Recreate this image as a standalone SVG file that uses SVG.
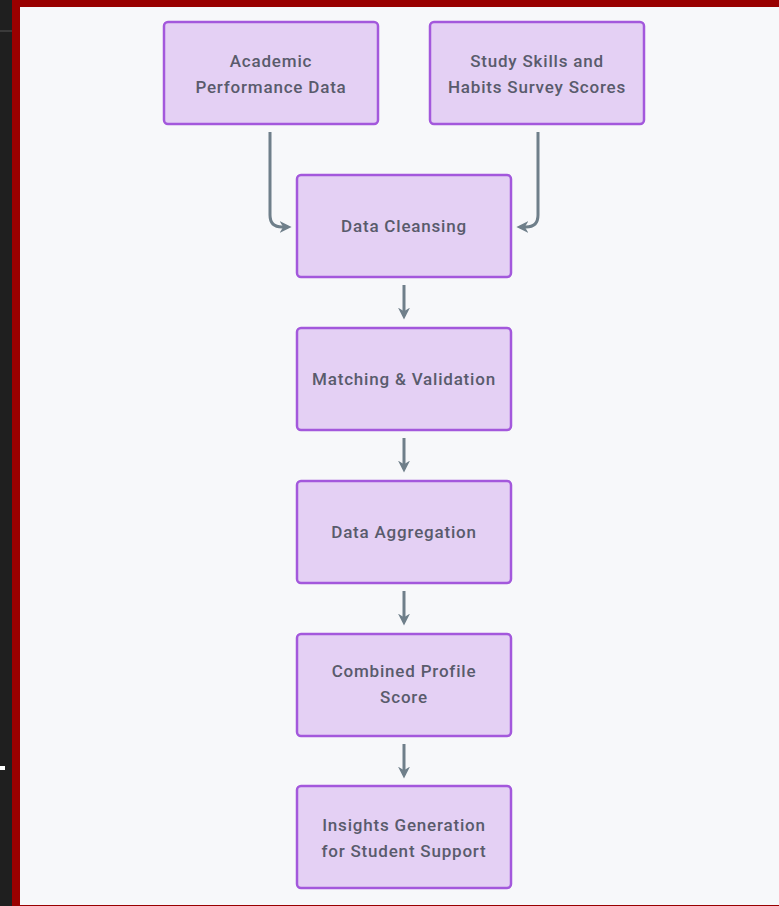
<svg xmlns="http://www.w3.org/2000/svg" width="779" height="906" viewBox="0 0 779 906">
  <style>
    .node rect { fill: #e4d0f4; stroke: #a358dc; stroke-width: 2.5; }
    .node text { font-family: "Roboto", "Liberation Sans", sans-serif; font-weight: 500; font-size: 17px; letter-spacing: 0.8px; fill: #595b6c; text-anchor: middle; }
    .edge { fill: none; stroke: #6f7f8a; stroke-width: 3; }
  </style>
  <defs>
    <marker id="head" viewBox="0 0 10 10" refX="7" refY="5" markerWidth="4" markerHeight="4" orient="auto" markerUnits="strokeWidth">
      <path d="M0,0 L10,5 L0,10 L3,5 Z" fill="#6f7f8a"/>
    </marker>
  </defs>

  <!-- frame -->
  <rect x="0" y="0" width="779" height="906" fill="#1f1f1f"/>
  <rect x="0" y="30" width="12" height="2" fill="#3a3a3a"/>
  <rect x="0" y="766" width="5" height="4" fill="#ffffff"/>
  <rect x="12" y="0" width="767" height="906" fill="#990000"/>
  <rect x="20" y="7" width="759" height="898" fill="#f7f8fa"/>

  <!-- connectors -->
  <g id="connectors">
    <path class="edge" d="M270,132 V215 Q270,227 282,227 H288" marker-end="url(#head)"/>
    <path class="edge" d="M538,132 V215 Q538,227 526,227 H520" marker-end="url(#head)"/>
    <path class="edge" d="M404,285 V316" marker-end="url(#head)"/>
    <path class="edge" d="M404,438 V469" marker-end="url(#head)"/>
    <path class="edge" d="M404,591 V622" marker-end="url(#head)"/>
    <path class="edge" d="M404,744 V775" marker-end="url(#head)"/>
  </g>

  <!-- nodes -->
  <g id="academic" class="node">
    <rect x="164" y="22" width="214" height="102" rx="4"/>
    <text x="271" y="67">Academic</text>
    <text x="271" y="93">Performance Data</text>
  </g>
  <g id="survey" class="node">
    <rect x="430" y="22" width="214" height="102" rx="4"/>
    <text x="537" y="67">Study Skills and</text>
    <text x="537" y="93">Habits Survey Scores</text>
  </g>
  <g id="cleansing" class="node">
    <rect x="297" y="175" width="214" height="102" rx="4"/>
    <text x="404" y="232">Data Cleansing</text>
  </g>
  <g id="matching" class="node">
    <rect x="297" y="328" width="214" height="102" rx="4"/>
    <text x="404" y="385">Matching &amp; Validation</text>
  </g>
  <g id="aggregation" class="node">
    <rect x="297" y="481" width="214" height="102" rx="4"/>
    <text x="404" y="538">Data Aggregation</text>
  </g>
  <g id="combined" class="node">
    <rect x="297" y="634" width="214" height="102" rx="4"/>
    <text x="404" y="677">Combined Profile</text>
    <text x="404" y="703">Score</text>
  </g>
  <g id="insights" class="node">
    <rect x="297" y="786" width="214" height="102" rx="4"/>
    <text x="404" y="831">Insights Generation</text>
    <text x="404" y="857">for Student Support</text>
  </g>
</svg>
